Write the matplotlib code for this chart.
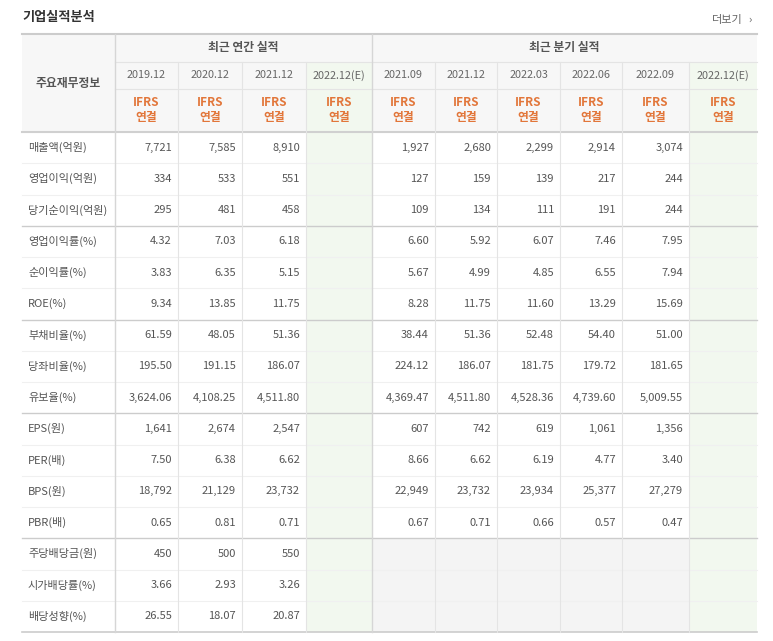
import matplotlib.pyplot as plt
from matplotlib.patches import Rectangle
from matplotlib import font_manager

# pick whichever CJK family is actually registered
avail = {f.name for f in font_manager.fontManager.ttflist}
cjk = [n for n in ['Noto Sans CJK KR', 'Noto Sans CJK JP', 'Noto Sans CJK SC', 'Noto Sans CJK TC'] if n in avail]
plt.rcParams['font.family'] = cjk + ['DejaVu Sans']

# ---- data ----
row_labels = ['매출액(억원)', '영업이익(억원)', '당기순이익(억원)', '영업이익률(%)', '순이익률(%)', 'ROE(%)',
              '부채비율(%)', '당좌비율(%)', '유보율(%)', 'EPS(원)', 'PER(배)', 'BPS(원)', 'PBR(배)',
              '주당배당금(원)', '시가배당률(%)', '배당성향(%)']
annual_periods = ['2019.12', '2020.12', '2021.12', '2022.12(E)']
quarter_periods = ['2021.09', '2021.12', '2022.03', '2022.06', '2022.09', '2022.12(E)']

annual_values = [
    ['7,721', '7,585', '8,910', ''],
    ['334', '533', '551', ''],
    ['295', '481', '458', ''],
    ['4.32', '7.03', '6.18', ''],
    ['3.83', '6.35', '5.15', ''],
    ['9.34', '13.85', '11.75', ''],
    ['61.59', '48.05', '51.36', ''],
    ['195.50', '191.15', '186.07', ''],
    ['3,624.06', '4,108.25', '4,511.80', ''],
    ['1,641', '2,674', '2,547', ''],
    ['7.50', '6.38', '6.62', ''],
    ['18,792', '21,129', '23,732', ''],
    ['0.65', '0.81', '0.71', ''],
    ['450', '500', '550', ''],
    ['3.66', '2.93', '3.26', ''],
    ['26.55', '18.07', '20.87', ''],
]
quarter_values = [
    ['1,927', '2,680', '2,299', '2,914', '3,074', ''],
    ['127', '159', '139', '217', '244', ''],
    ['109', '134', '111', '191', '244', ''],
    ['6.60', '5.92', '6.07', '7.46', '7.95', ''],
    ['5.67', '4.99', '4.85', '6.55', '7.94', ''],
    ['8.28', '11.75', '11.60', '13.29', '15.69', ''],
    ['38.44', '51.36', '52.48', '54.40', '51.00', ''],
    ['224.12', '186.07', '181.75', '179.72', '181.65', ''],
    ['4,369.47', '4,511.80', '4,528.36', '4,739.60', '5,009.55', ''],
    ['607', '742', '619', '1,061', '1,356', ''],
    ['8.66', '6.62', '6.19', '4.77', '3.40', ''],
    ['22,949', '23,732', '23,934', '25,377', '27,279', ''],
    ['0.67', '0.71', '0.66', '0.57', '0.47', ''],
    ['', '', '', '', '', ''],
    ['', '', '', '', '', ''],
    ['', '', '', '', '', ''],
]

# ---- layout (pixel coords) ----
W, H = 773, 641
col_x = [22, 115, 178, 242, 306, 372, 435, 497, 560, 622, 689, 757]
top, grp_b, date_b, hdr_b, bottom = 34, 62, 89, 132, 632
row_h = (bottom - hdr_b) / len(row_labels)
group_ends = [3, 6, 9, 13]

txt = '#555555'
orange = '#e2763a'
line = '#e4e4e4'
hdr_bg = '#f7f7f7'
est_bg = '#f2f8ef'

fig = plt.figure(figsize=(W / 100, H / 100), dpi=100)
ax = fig.add_axes([0, 0, 1, 1])
ax.set_xlim(0, W)
ax.set_ylim(H, 0)
ax.axis('off')

def rect(x0, y0, x1, y1, c):
    ax.add_patch(Rectangle((x0, y0), x1 - x0, y1 - y0, facecolor=c, edgecolor='none', zorder=0))

ax.text(22, 17, '기업실적분석', fontsize=9.5, fontweight='bold', color='#333333', va='center')
ax.text(712, 20, '더보기', fontsize=8, color='#666666', va='center')
ax.text(748, 20, '›', fontsize=8, color='#666666', va='center')

# header backgrounds
rect(col_x[0], top, col_x[-1], hdr_b, hdr_bg)
for ci in (4, 10):
    rect(col_x[ci], grp_b, col_x[ci + 1], bottom, est_bg)
# grey block for quarterly dividend rows
rect(col_x[5], hdr_b + 13 * row_h, col_x[10], bottom, '#f4f4f4')

# lines
ax.plot([col_x[0], col_x[-1]], [top, top], color='#cccccc', lw=1.5)
ax.plot([col_x[1], col_x[-1]], [grp_b, grp_b], color=line, lw=0.8)
ax.plot([col_x[1], col_x[-1]], [date_b, date_b], color=line, lw=0.8)
ax.plot([col_x[0], col_x[-1]], [hdr_b, hdr_b], color='#d0d0d0', lw=1.5)
ax.plot([col_x[0], col_x[-1]], [bottom, bottom], color='#cccccc', lw=1.2)
for i in range(1, len(row_labels)):
    y = hdr_b + i * row_h
    if i in group_ends:
        ax.plot([col_x[0], col_x[-1]], [y, y], color='#cccccc', lw=1.0)
    else:
        ax.plot([col_x[0], col_x[-1]], [y, y], color='#f0f0f0', lw=0.8)
for i, x in enumerate(col_x[1:-1], start=1):
    if i in (1, 5):
        ax.plot([x, x], [top, bottom], color='#d6d6d6', lw=1.0)
    else:
        ax.plot([x, x], [grp_b, bottom], color=line, lw=0.8)

# headers
ax.text((col_x[0] + col_x[1]) / 2, (top + hdr_b) / 2, '주요재무정보', fontsize=8.5, fontweight='bold',
        color=txt, ha='center', va='center')
ax.text((col_x[1] + col_x[5]) / 2, (top + grp_b) / 2, '최근 연간 실적', fontsize=8.5, fontweight='bold',
        color=txt, ha='center', va='center')
ax.text((col_x[5] + col_x[-1]) / 2, (top + grp_b) / 2, '최근 분기 실적', fontsize=8.5, fontweight='bold',
        color=txt, ha='center', va='center')
periods = annual_periods + quarter_periods
for j, p in enumerate(periods):
    cx = (col_x[j + 1] + col_x[j + 2]) / 2
    ax.text(cx, (grp_b + date_b) / 2, p, fontsize=7.8, color='#666666', ha='center', va='center')
    ax.text(cx, hdr_b - 29, 'IFRS', fontsize=8.5, fontweight='bold', color=orange, ha='center', va='center')
    ax.text(cx, hdr_b - 15, '연결', fontsize=8.5, fontweight='bold', color=orange, ha='center', va='center')

# body
for i, lab in enumerate(row_labels):
    cy = hdr_b + (i + 0.5) * row_h
    ax.text(col_x[0] + 6, cy, lab, fontsize=8, color=txt, ha='left', va='center')
    vals = annual_values[i] + quarter_values[i]
    for j, v in enumerate(vals):
        ax.text(col_x[j + 2] - 6, cy, v, fontsize=8, color=txt, ha='right', va='center')

fig.savefig('out.png', dpi=100, facecolor='white')
